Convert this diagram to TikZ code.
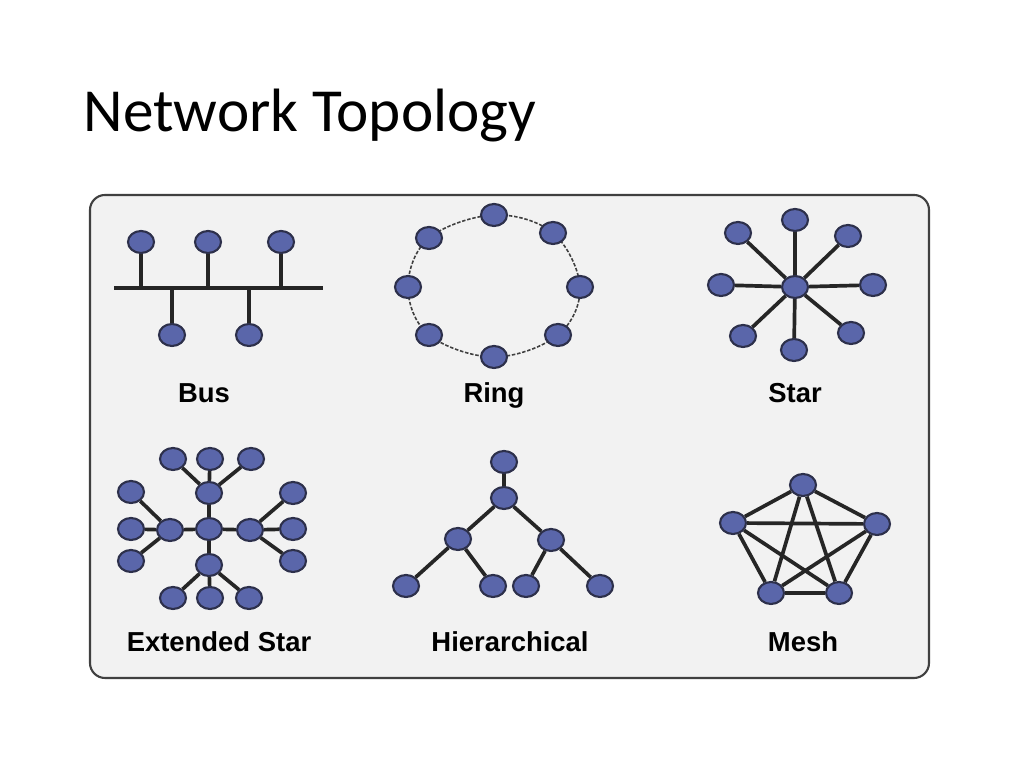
\documentclass[tikz,border=0pt]{standalone}
\usepackage{fontspec}
\setmainfont{Carlito}
\newfontfamily\labelfont{Liberation Sans}
\usetikzlibrary{shapes.geometric,positioning,calc}
\definecolor{hostblue}{RGB}{90,102,170}
\definecolor{hostrim}{RGB}{45,48,75}
\definecolor{panelgray}{RGB}{242,242,242}
\pgfdeclarelayer{bg}
\pgfsetlayers{bg,main}
\tikzset{
    host/.style={ellipse,draw=hostrim,fill=hostblue,line width=0.6pt,
        minimum width=0.26cm,minimum height=0.22cm,inner sep=0pt},
    link/.style={line width=1.05pt,black!85},
    ringlink/.style={line width=0.45pt,dash pattern=on 1pt off 0.5pt,black!75},
    panel/.style={draw=black!75,fill=panelgray,line width=0.6pt,rounded corners=0.15cm},
    kind/.style={font=\labelfont\bfseries\fontsize{7.8}{9}\selectfont,anchor=base},
    heading/.style={font=\fontsize{17.4}{20}\selectfont,anchor=base west,inner sep=0pt},
}

\begin{document}
\begin{tikzpicture}[x=0.01cm,y=-0.01cm]
    \useasboundingbox (0,0) rectangle (1024,768);
    \node[heading] (title) at (83,132) {Network Topology};
    \begin{pgfonlayer}{bg}
        \draw[panel] (90,195) rectangle (929,678);
    \end{pgfonlayer}

    % bus
    \coordinate (busL) at (114,288);
    \coordinate (busR) at (323,288);
    \draw[link] (busL) -- (busR);
    \foreach \n/\x/\y in {b1/141/242, b2/208/242, b3/281/242, b4/172/335, b5/249/335} {
        \node[host] (\n) at (\x,\y) {};
        \draw[link] (\n) -- (\n |- busL);
    }
    \node[kind] (buslabel) at (204,403) {Bus};

    % ring
    \foreach \n/\x/\y in {r1/494/215, r2/553/233, r3/580/287, r4/558/335,
                          r5/494/357, r6/429/335, r7/408/287, r8/429/238}
        \node[host] (\n) at (\x,\y) {};
    \begin{pgfonlayer}{bg}
        \draw[ringlink] plot[smooth cycle,tension=0.6] coordinates {(r1) (r2) (r3) (r4) (r5) (r6) (r7) (r8)};
    \end{pgfonlayer}
    \node[kind] (ringlabel) at (494,403) {Ring};

    % star
    \node[host] (hub) at (795,287) {};
    \foreach \n/\x/\y in {s1/795/220, s2/848/236, s3/873/285, s4/851/333,
                          s5/794/350, s6/743/336, s7/721/285, s8/738/233} {
        \node[host] (\n) at (\x,\y) {};
        \draw[link] (hub) -- (\n);
    }
    \node[kind] (starlabel) at (795,403) {Star};

    % extended star
    \node[host] (xc) at (209,529) {};
    \foreach \h/\x/\y in {xt/209/493, xl/170/530, xr/250/530, xb/209/565} {
        \node[host] (\h) at (\x,\y) {};
        \draw[link] (xc) -- (\h);
    }
    \foreach \h/\n/\x/\y in {xt/t1/173/459, xt/t2/210/459, xt/t3/251/459,
                             xl/l1/131/492, xl/l2/131/529, xl/l3/131/561,
                             xr/r1/293/493, xr/r2/293/529, xr/r3/293/561,
                             xb/d1/173/598, xb/d2/210/598, xb/d3/249/598} {
        \node[host] (x\n) at (\x,\y) {};
        \draw[link] (\h) -- (x\n);
    }
    \node[kind] (extlabel) at (219,652) {Extended Star};

    % hierarchical
    \node[host] (root) at (504,462) {};
    \node[host] (top) at (504,498) {};
    \node[host] (midL) at (458,539) {};
    \node[host] (midR) at (551,540) {};
    \foreach \n/\x in {leaf1/406, leaf2/493, leaf3/526, leaf4/600}
        \node[host] (\n) at (\x,586) {};
    \draw[link] (root) -- (top);
    \draw[link] (top) -- (midL);
    \draw[link] (top) -- (midR);
    \draw[link] (midL) -- (leaf1);
    \draw[link] (midL) -- (leaf2);
    \draw[link] (midR) -- (leaf3);
    \draw[link] (midR) -- (leaf4);
    \node[kind] (hierlabel) at (510,652) {Hierarchical};

    % mesh
    \foreach \n/\x/\y in {m1/803/485, m2/877/524, m3/839/593, m4/771/593, m5/733/523}
        \node[host] (\n) at (\x,\y) {};
    \foreach \a/\b in {m1/m2, m1/m3, m1/m4, m1/m5, m2/m3, m2/m4, m2/m5, m3/m4, m3/m5, m4/m5}
        \draw[link] (\a) -- (\b);
    \node[kind] (meshlabel) at (803,652) {Mesh};
\end{tikzpicture}
\end{document}
